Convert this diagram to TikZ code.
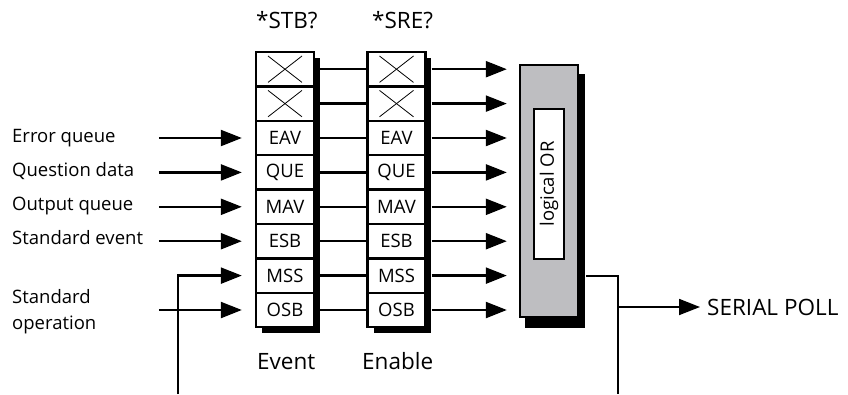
\documentclass[tikz,border=0pt]{standalone}
\usepackage{fontspec}
\setmainfont{Open Sans}
\usetikzlibrary{arrows.meta}
\definecolor{orgray}{RGB}{190,190,193}
\begin{document}
\begin{tikzpicture}[x=1pt,y=-1pt,
  reg/.style={draw, line width=2.4pt, fill=white, minimum width=58pt, minimum height=34.4pt, inner sep=0pt, font=\fontsize{18.5}{20}\selectfont},
  wire/.style={line width=2.3pt},
  arr/.style={line width=2.3pt, -{Triangle[length=21pt,width=16pt]}},
  lbl/.style={anchor=base west, inner sep=0pt, font=\fontsize{18.5}{20}\selectfont},
  big/.style={anchor=base west, inner sep=0pt, font=\fontsize{22.5}{26}\selectfont},
  xbox/.style={reg, path picture={\draw[line width=0.8pt] ([xshift=12pt,yshift=-4pt]path picture bounding box.north west) -- ([xshift=-12pt,yshift=4pt]path picture bounding box.south east);
     \draw[line width=0.8pt] ([xshift=-12pt,yshift=-4pt]path picture bounding box.north east) -- ([xshift=12pt,yshift=4pt]path picture bounding box.south west);}}
]
\useasboundingbox (0,0) rectangle (848,394);
% shadows
\fill (262,58) rectangle (320,333);
\fill (374,58) rectangle (431,333);
\fill (525,74) rectangle (585,328);
% registers
\foreach \col/\cx in {e/285,n/396.5}{
  \node[xbox] (\col1) at (\cx,69.2) {};
  \node[xbox] (\col2) at (\cx,103.6) {};
  \node[reg] (\col3) at (\cx,138) {EAV};
  \node[reg] (\col4) at (\cx,172.4) {QUE};
  \node[reg] (\col5) at (\cx,206.8) {MAV};
  \node[reg] (\col6) at (\cx,241.2) {ESB};
  \node[reg] (\col7) at (\cx,275.6) {MSS};
  \node[reg] (\col8) at (\cx,310) {OSB};
}
% OR box
\node[draw, line width=2.4pt, fill=orgray, minimum width=58pt, minimum height=252pt, inner sep=0pt] (or) at (549,191) {};
\node[draw, line width=2.4pt, fill=white, minimum width=150pt, minimum height=30pt, inner sep=0pt, rotate=90, font=\fontsize{18.5}{20}\selectfont] (orin) at (549,184) {logical OR};
% connections
\foreach \k in {1,...,8}{
  \draw[wire] ([xshift=5pt]e\k.east) -- (n\k.west);
  \draw[arr] ([xshift=5pt]n\k.east) -- ([xshift=-12pt]or.west |- n\k.center);
}
% inputs
\foreach \k in {3,4,5,6,8}{
  \draw[arr] ([xshift=-96pt]e\k.west) -- ([xshift=-13pt]e\k.west);
}
\coordinate (fbb) at (178,394);
\draw[arr] (fbb) |- ([xshift=-13pt]e7.west);
% labels
\node[big] (h1) at (256,28) {*STB?};
\node[big] (h2) at (372,28) {*SRE?};
\node[big] (f1) at (257,369) {Event};
\node[big] (f2) at (362,369) {Enable};
\node[lbl] (l3) at (12,142.5) {Error queue};
\node[lbl] (l4) at (12,176.5) {Question data};
\node[lbl] (l5) at (12,210.5) {Output queue};
\node[lbl] (l6) at (12,244.5) {Standard event};
\node[lbl] (l8a) at (12,303) {Standard};
\node[lbl] (l8b) at (12,329) {operation};
% output
\coordinate (ob) at (618,394);
\coordinate (oj) at (618,307);
\node[big] (sp) at (707,315) {SERIAL POLL};
\draw[wire, line width=1.8pt] ([xshift=7pt]or.east |- 0,276) -| (ob);
\draw[arr, line width=1.8pt] (oj) -- ([xshift=-7pt]sp.west |- oj) ;
\end{tikzpicture}
\end{document}
